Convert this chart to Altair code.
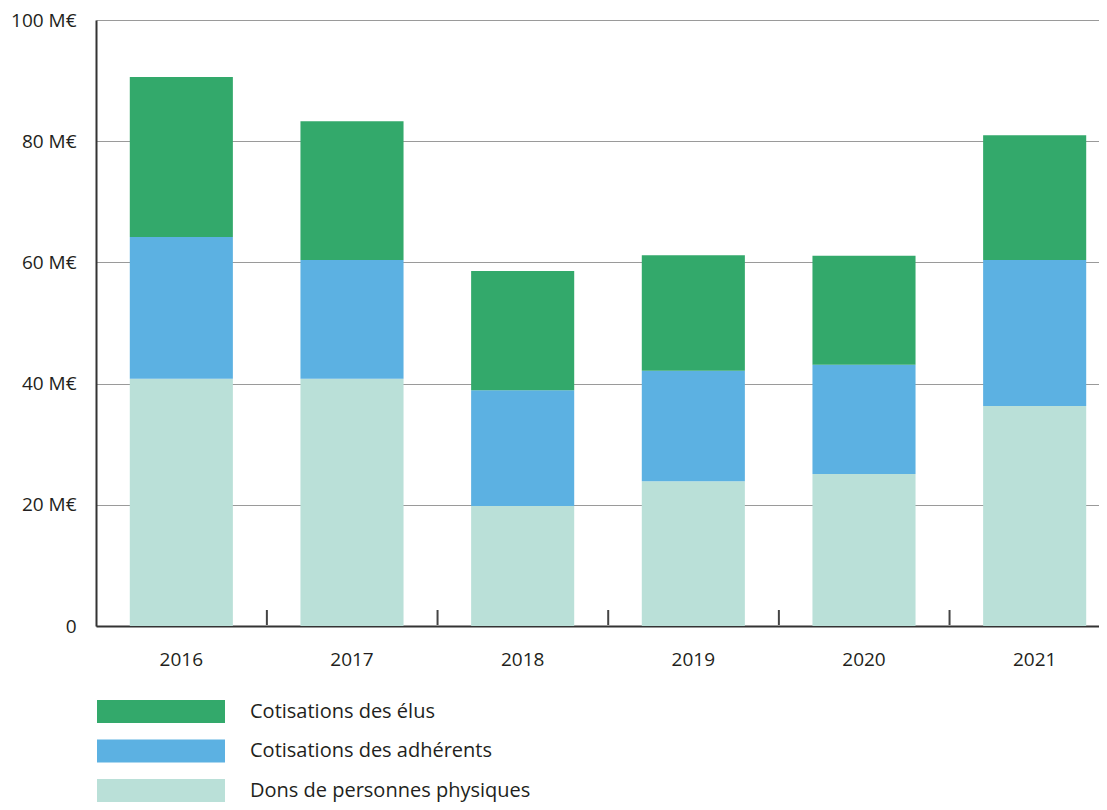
import altair as alt
import pandas as pd

FONT = "Open Sans"

years = ["2016", "2017", "2018", "2019", "2020", "2021"]
series = ["Cotisations des élus", "Cotisations des adhérents", "Dons de personnes physiques"]
elus = [26.4, 22.9, 19.7, 19.1, 18.0, 20.6]
adherents = [23.4, 19.6, 19.1, 18.2, 18.0, 24.1]
dons = [40.8, 40.8, 19.8, 23.9, 25.1, 36.3]
colors = ["#33a96b", "#5cb1e2", "#bae0d8"]
y_ticks = [0, 20, 40, 60, 80, 100]
title_text = "Répartition des dons et cotisations des partis, selon la nature des contributions"

rows = []
for i, yr in enumerate(years):
    for rank, (name, vals) in enumerate([(series[2], dons), (series[1], adherents), (series[0], elus)]):
        rows.append({"year": yr, "serie": name, "value": vals[i], "rank": rank})
df = pd.DataFrame(rows)
df_years = pd.DataFrame({"year": years})

xscale = alt.Scale(range=[0, 1024], paddingInner=0.396, paddingOuter=0.198)

bars = alt.Chart(df).mark_bar().encode(
    x=alt.X("year:N", scale=xscale, title=None),
    y=alt.Y(
        "value:Q",
        stack="zero",
        scale=alt.Scale(domain=[0, 100], nice=False),
        title=None,
        axis=alt.Axis(values=y_ticks, labelExpr="datum.value == 0 ? '0' : datum.value + ' M€'"),
    ),
    color=alt.Color(
        "serie:N",
        scale=alt.Scale(domain=series, range=colors),
        legend=alt.Legend(
            orient="none",
            legendX=53.5,
            legendY=680,
            title=None,
            symbolType="M-5.565,-1H5.565V1H-5.565Z",
            symbolSize=529,
            symbolStrokeWidth=0,
            symbolOpacity=1,
            labelFontSize=20,
            labelFont=FONT,
            labelColor="#231f20",
            labelOffset=77.5,
            labelLimit=500,
            rowPadding=16.5,
            padding=0,
        ),
    ),
    order=alt.Order("rank:Q", sort="ascending"),
)

ticks = alt.Chart(df_years).mark_rule(color="#444444", strokeWidth=2, xOffset=34).encode(
    x=alt.X("year:N", bandPosition=1, title=None),
    y=alt.value(590),
    y2=alt.value(605),
)

chart = (
    alt.layer(bars, ticks)
    .properties(
        width=1003,
        height=606,
        autosize=alt.AutoSizeParams(type="none"),
        padding={"left": 88, "top": 12, "right": 0, "bottom": 176},
        title=alt.TitleParams(
            text=title_text,
            offset=6,
            fontSize=16,
            font=FONT,
            fontWeight="normal",
            color="#8a8a8a",
            anchor="middle",
        ),
        background="white",
    )
    .configure_view(stroke=None)
    .configure_axisX(
        labelAngle=0,
        ticks=False,
        grid=False,
        domainColor="#333333",
        domainWidth=2,
        labelFont=FONT,
        labelFontSize=19,
        labelColor="#231f20",
        labelPadding=24,
    )
    .configure_axisY(
        ticks=False,
        grid=True,
        gridColor="#9a9a9a",
        gridWidth=1,
        domainColor="#333333",
        domainWidth=2,
        labelFont=FONT,
        labelFontSize=19,
        labelColor="#231f20",
        labelPadding=20,
    )
)

chart.save("out.html", embed_options={"renderer": "svg", "actions": False})
